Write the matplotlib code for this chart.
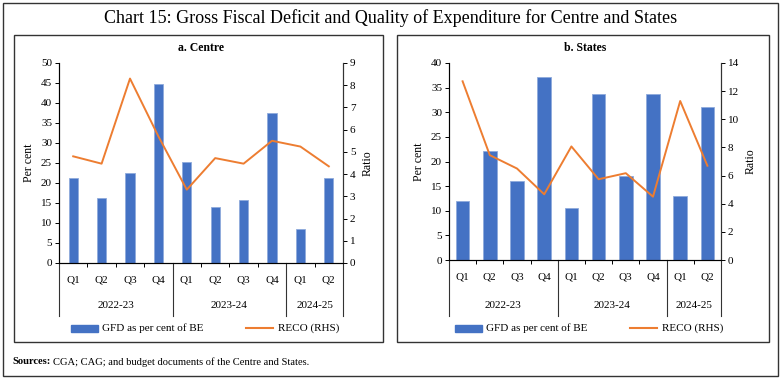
import numpy as np
import matplotlib.pyplot as plt
from matplotlib.patches import Rectangle
from matplotlib.lines import Line2D

plt.rcParams['font.family'] = ['Liberation Serif', 'DejaVu Serif']

# Дані
quarters = ['Q1', 'Q2', 'Q3', 'Q4', 'Q1', 'Q2', 'Q3', 'Q4', 'Q1', 'Q2']
years = ['2022-23', '2023-24', '2024-25']
year_sizes = [4, 4, 2]

centre_gfd = [21.2, 16.2, 22.4, 44.8, 25.3, 14.1, 15.8, 37.6, 8.6, 21.2]
centre_reco = [4.8, 4.47, 8.3, 5.7, 3.3, 4.72, 4.47, 5.5, 5.24, 4.35]

states_gfd = [12.0, 22.1, 16.1, 37.1, 10.6, 33.8, 17.1, 33.8, 12.9, 31.1]
states_reco = [12.7, 7.45, 6.5, 4.67, 8.07, 5.74, 6.17, 4.5, 11.3, 6.7]

BLUE = '#4472C4'
ORANGE = '#ED7D31'
W, H = 781, 379

fig = plt.figure(figsize=(W / 100, H / 100), dpi=100)


def px_axes(x0, x1, ytop, ybot):
    return fig.add_axes([x0 / W, (H - ybot) / H, (x1 - x0) / W, (ybot - ytop) / H])


def fig_rect(x0, y0, x1, y1, **kw):
    fig.add_artist(Rectangle((x0 / W, (H - y1) / H), (x1 - x0) / W, (y1 - y0) / H,
                             transform=fig.transFigure, fill=False, **kw))


def panel(x0, x1, ytop, ybot, gfd, reco, ymax, ystep, rmax, rstep, bar_w, title, leg):
    ax = px_axes(x0, x1, ytop, ybot)
    x = np.arange(len(quarters))
    ax.bar(x, gfd, width=bar_w, color=BLUE, edgecolor='#8FAADC', linewidth=0.6, zorder=2)
    ax.set_xlim(-0.5, len(quarters) - 0.5)
    ax.set_ylim(0, ymax)
    ax.set_yticks(np.arange(0, ymax + 0.1, ystep))
    ax.set_ylabel('Per cent', fontsize=8.5, labelpad=4)
    ax.spines['top'].set_visible(False)
    for s in ['left', 'right', 'bottom']:
        ax.spines[s].set_linewidth(0.8)
        ax.spines[s].set_color('#333333')
    ax.tick_params(axis='y', labelsize=8, length=3, width=0.7, pad=2)
    ax.set_xticks(x)
    ax.set_xticklabels(quarters)
    ax.tick_params(axis='x', which='major', length=0, labelsize=8, pad=9)
    ax.set_xticks(np.arange(-0.5, len(quarters), 1), minor=True)
    ax.tick_params(axis='x', which='minor', length=3, width=0.7)

    ax2 = ax.twinx()
    ax2.plot(x, reco, color=ORANGE, linewidth=1.4, zorder=3)
    ax2.set_ylim(0, rmax)
    ax2.set_yticks(np.arange(0, rmax + 0.1, rstep))
    ax2.set_ylabel('Ratio', fontsize=8.5, labelpad=4)
    ax2.spines['top'].set_visible(False)
    ax2.spines['right'].set_linewidth(0.8)
    ax2.spines['right'].set_color('#333333')
    ax2.tick_params(axis='y', labelsize=8, length=3, width=0.7, pad=2)

    # Підписи років та роздільники
    hgt = ybot - ytop
    y_year = -(305 - ybot) / hgt
    y_line = -(316 - ybot) / hgt
    tr = ax.get_xaxis_transform()
    start = -0.5
    ax.add_line(Line2D([start, start], [0, y_line], transform=tr, color='#333333',
                       linewidth=0.8, clip_on=False))
    for yr, n in zip(years, year_sizes):
        end = start + n
        ax.text((start + end) / 2, y_year, yr, transform=tr, ha='center', va='center', fontsize=8)
        ax.add_line(Line2D([end, end], [0, y_line], transform=tr, color='#333333',
                           linewidth=0.8, clip_on=False))
        start = end

    fig.text((x0 + x1) / 2 / W, (H - 48) / H, title, ha='center', va='center',
             fontsize=8.5, fontweight='bold')

    # Легенда
    lx, ly = leg
    fig.add_artist(Rectangle((lx / W, (H - ly - 3.5) / H), 27 / W, 7 / H,
                             transform=fig.transFigure, color=BLUE))
    fig.text((lx + 31) / W, (H - ly) / H, 'GFD as per cent of BE', va='center', fontsize=8)
    fig.add_artist(Line2D([(lx + 175) / W, (lx + 202) / W], [(H - ly) / H] * 2,
                          transform=fig.transFigure, color=ORANGE, linewidth=1.5))
    fig.text((lx + 207) / W, (H - ly) / H, 'RECO (RHS)', va='center', fontsize=8)
    return ax


panel(59, 343, 63, 263, centre_gfd, centre_reco, 50, 5, 9, 1, 0.32, 'a. Centre', (71, 328))
panel(449, 721, 63, 260, states_gfd, states_reco, 40, 5, 14, 2, 0.5, 'b. States', (455, 328))

fig_rect(3, 3, 778, 376, linewidth=1.0, edgecolor='#333333')
fig_rect(14, 35, 383, 342, linewidth=1.0, edgecolor='#333333')
fig_rect(397, 35, 769, 342, linewidth=1.0, edgecolor='#333333')

fig.text(0.5, (H - 18) / H, 'Chart 15: Gross Fiscal Deficit and Quality of Expenditure for Centre and States',
         ha='center', va='center', fontsize=13)

src = fig.text(12 / W, (H - 362) / H, 'Sources:', va='center', fontsize=7.6, fontweight='bold')
fig.canvas.draw()
bb = src.get_window_extent()
fig.text((bb.x1 + 3) / W, (H - 362) / H, 'CGA; CAG; and budget documents of the Centre and States.',
         va='center', fontsize=7.6)

fig.savefig('out.png', dpi=100)
